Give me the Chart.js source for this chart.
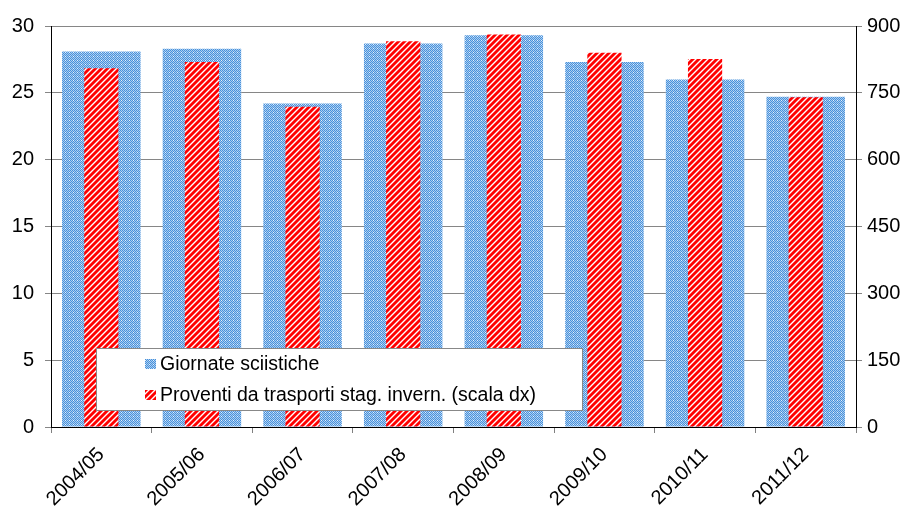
<!DOCTYPE html>
<html>
<head>
<meta charset="utf-8">
<script src="https://cdn.jsdelivr.net/npm/chart.js@4/dist/chart.umd.min.js"></script>
<style>
  html,body{margin:0;padding:0;background:#fff;}
  #wrap{width:912px;height:506px;position:relative;}
</style>
</head>
<body>
<div id="wrap"><canvas id="c" width="912" height="506"></canvas></div>
<script>
const categories = ["2004/05","2005/06","2006/07","2007/08","2008/09","2009/10","2010/11","2011/12"];
const giornate = [28.1, 28.3, 24.2, 28.7, 29.3, 27.3, 26.0, 24.7];
const proventi = [805, 819, 719, 866, 881, 840, 826, 740];
const labelGiornate = "Giornate sciistiche";
const labelProventi = "Proventi da trasporti stag. invern. (scala dx)";
const leftTicks = [0, 5, 10, 15, 20, 25, 30];
const rightTicks = [0, 150, 300, 450, 600, 750, 900];

function makeBluePattern(ctx) {
  const n = 4;
  const c = document.createElement('canvas');
  c.width = n; c.height = n;
  const g = c.getContext('2d');
  for (let x = 0; x < n; x++) for (let y = 0; y < n; y++) {
    let col;
    if ((x + y) % 2 === 0) col = '#4a90da';
    else col = (x % 4 === 1 && y % 4 === 0) ? '#e6f1fb' : '#a9cff2';
    g.fillStyle = col;
    g.fillRect(x, y, 1, 1);
  }
  return ctx.createPattern(c, 'repeat');
}
function makeRedPattern(ctx) {
  const n = 6;
  const c = document.createElement('canvas');
  c.width = n; c.height = n;
  const g = c.getContext('2d');
  const cols = ['#ff0000','#ff0000','#ff0000','#ff7a7a','#ffffff','#ff7a7a'];
  for (let x = 0; x < n; x++) for (let y = 0; y < n; y++) {
    g.fillStyle = cols[(x + y) % n];
    g.fillRect(x, y, 1, 1);
  }
  return ctx.createPattern(c, 'repeat');
}

const canvas = document.getElementById('c');
const ctx = canvas.getContext('2d');
const bluePat = makeBluePattern(ctx);
const redPat = makeRedPattern(ctx);

const FONT = "'Liberation Sans', Arial, sans-serif";

const legendPlugin = {
  id: 'boxLegend',
  afterDraw(chart) {
    const c = chart.ctx;
    const x0 = 96.5, y0 = 348.5, w = 486, h = 62;
    c.save();
    c.fillStyle = '#ffffff';
    c.fillRect(x0, y0, w, h);
    c.strokeStyle = '#888888';
    c.lineWidth = 1;
    c.strokeRect(x0, y0, w, h);
    const items = [
      {label: chart.data.datasets[0].label, fill: chart.data.datasets[0].backgroundColor, y: 364},
      {label: chart.data.datasets[1].label, fill: chart.data.datasets[1].backgroundColor, y: 395}
    ];
    c.font = "19.5px " + FONT;
    c.textBaseline = 'middle';
    c.textAlign = 'left';
    items.forEach(it => {
      c.fillStyle = it.fill;
      c.fillRect(145, it.y - 5, 11, 10);
      c.fillStyle = '#000000';
      c.fillText(it.label, 160, it.y + 1);
    });
    c.restore();
  }
};

new Chart(ctx, {
  type: 'bar',
  data: {
    labels: categories,
    datasets: [
      {
        label: labelGiornate,
        data: giornate,
        backgroundColor: bluePat,
        borderWidth: 0,
        yAxisID: 'y',
        grouped: false,
        barPercentage: 0.78,
        categoryPercentage: 1,
        order: 1
      },
      {
        label: labelProventi,
        data: proventi,
        backgroundColor: redPat,
        borderWidth: 0,
        yAxisID: 'y1',
        grouped: false,
        barPercentage: 0.34,
        categoryPercentage: 1,
        order: 0
      }
    ]
  },
  options: {
    responsive: false,
    animation: false,
    devicePixelRatio: 1,
    layout: { padding: { top: 26, left: 0, right: 0, bottom: 0 } },
    plugins: {
      legend: { display: false },
      tooltip: { enabled: false }
    },
    scales: {
      x: {
        offset: true,
        grid: { offset: true, drawOnChartArea: false, drawTicks: true, tickLength: 6, color: '#808080' },
        border: { color: '#000000', width: 1 },
        ticks: { color: '#000', font: { size: 20, family: FONT }, minRotation: 45, maxRotation: 45, padding: 10 },
        afterFit(s) { s.height = 79; }
      },
      y: {
        position: 'left',
        min: 0, max: 30,
        afterBuildTicks(s) { s.ticks = leftTicks.map(v => ({value: v})); },
        grid: { color: '#868686', tickLength: 6, lineWidth: 1 },
        border: { color: '#000000', width: 1 },
        ticks: { color: '#000', font: { size: 20, family: FONT }, padding: 11 },
        afterFit(s) { s.width = 51; }
      },
      y1: {
        position: 'right',
        min: 0, max: 900,
        afterBuildTicks(s) { s.ticks = rightTicks.map(v => ({value: v})); },
        grid: { drawOnChartArea: false, color: '#868686', tickLength: 6 },
        border: { color: '#000000', width: 1 },
        ticks: { color: '#000', font: { size: 20, family: FONT }, padding: 5 },
        afterFit(s) { s.width = 56; }
      }
    }
  },
  plugins: [legendPlugin]
});
</script>
</body>
</html>
